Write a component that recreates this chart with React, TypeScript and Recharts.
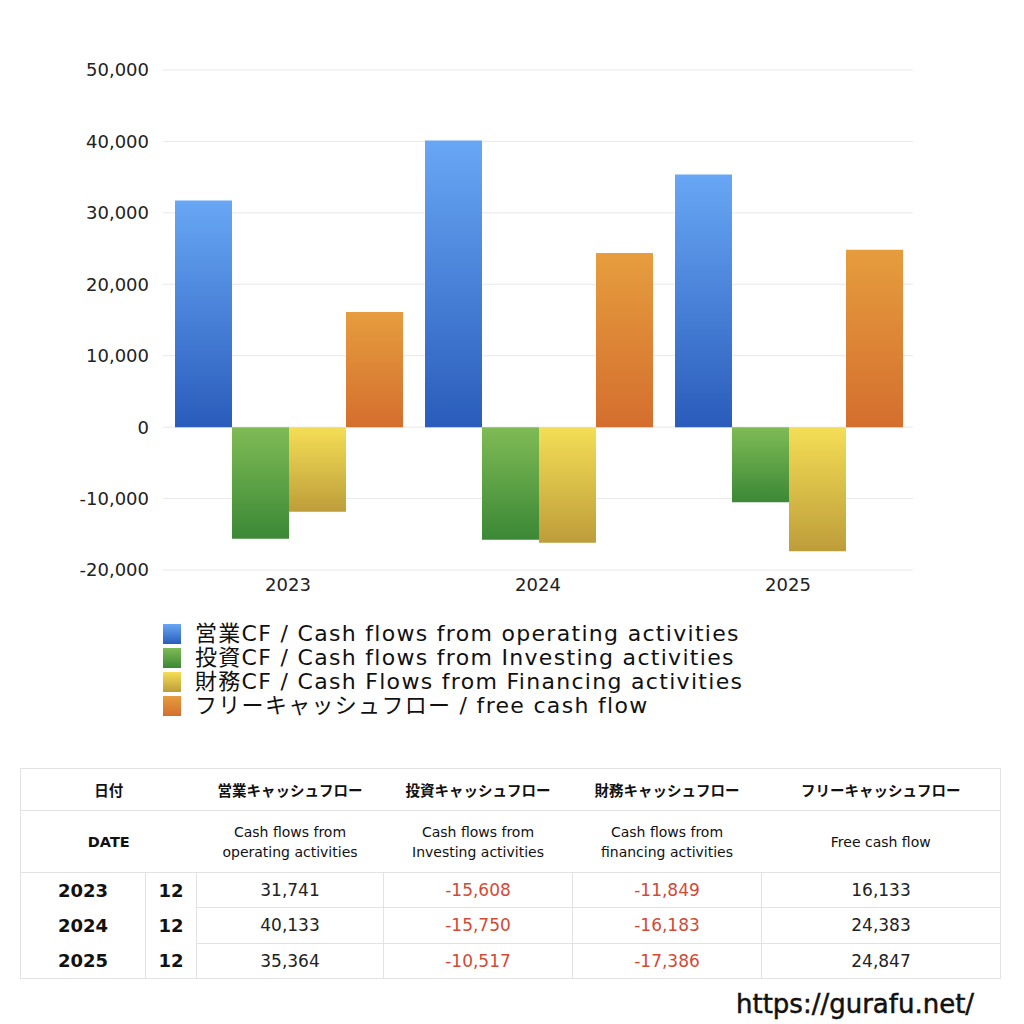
import React from 'react';
import { BarChart, Bar, XAxis, YAxis, CartesianGrid } from 'recharts';

const years = ['2023', '2024', '2025'];
const months = ['12', '12', '12'];
const operating = [31741, 40133, 35364];
const investing = [-15608, -15750, -10517];
const financing = [-11849, -16183, -17386];
const freeCF = [16133, 24383, 24847];
const yTicks = [-20000, -10000, 0, 10000, 20000, 30000, 40000, 50000];

const seriesDefs = [
  { key: 'operating', label: '営業CF / Cash flows from operating activities', top: '#68a7f5', bottom: '#2a5cbb', grad: 'gOp' },
  { key: 'investing', label: '投資CF / Cash flows from Investing activities', top: '#7fbb55', bottom: '#3b8836', grad: 'gInv' },
  { key: 'financing', label: '財務CF / Cash Flows from Financing activities', top: '#f4de55', bottom: '#bd9d3a', grad: 'gFin' },
  { key: 'free', label: 'フリーキャッシュフロー / free cash flow', top: '#e69d3e', bottom: '#d46e2e', grad: 'gFree' },
];

const tableHeadJa = ['営業キャッシュフロー', '投資キャッシュフロー', '財務キャッシュフロー', 'フリーキャッシュフロー'];
const tableHeadEn = [['Cash flows from', 'operating activities'], ['Cash flows from', 'Investing activities'], ['Cash flows from', 'financing activities'], ['Free cash flow']];

const data = years.map((y, i) => ({
  year: y,
  operating: operating[i],
  investing: investing[i],
  financing: financing[i],
  free: freeCF[i],
}));

const FONT = '"DejaVu Sans", "Noto Sans CJK JP", sans-serif';
const fmt = (v: number) => v.toLocaleString('en-US');

export default function App() {
  const border = '1px solid #e2e2e2';
  const colW = [125, 51, 187, 189, 189, 239];
  const tableRows = years.map((y, i) => [operating[i], investing[i], financing[i], freeCF[i]]);
  return (
    <div style={{ position: 'absolute', left: 0, top: 0, width: 1024, height: 1024, background: '#fff', fontFamily: FONT, overflow: 'hidden' }}>
      <div style={{ position: 'absolute', left: 0, top: 0 }}>
        <BarChart width={1024} height={610} data={data} margin={{ top: 70, right: 111, bottom: 10, left: 63 }} barCategoryGap={12} barGap={0}>
          <defs>
            {seriesDefs.map((s) => (
              <linearGradient key={s.grad} id={s.grad} x1="0" y1="0" x2="0" y2="1">
                <stop offset="0%" stopColor={s.top} />
                <stop offset="100%" stopColor={s.bottom} />
              </linearGradient>
            ))}
          </defs>
          <CartesianGrid vertical={false} stroke="#e8e8e8" />
          <XAxis dataKey="year" height={30} axisLine={false} tickLine={false} tickSize={0} tickMargin={8}
            tick={{ fontSize: 18, fill: '#222', fontFamily: FONT }} />
          <YAxis width={100} domain={[-20000, 50000]} ticks={yTicks} axisLine={false} tickLine={false} tickSize={0} tickMargin={14}
            tickFormatter={fmt} tick={{ fontSize: 18, fill: '#222', fontFamily: FONT }} />
          {seriesDefs.map((s) => (
            <Bar key={s.key} dataKey={s.key} fill={`url(#${s.grad})`} isAnimationActive={false} />
          ))}
        </BarChart>
      </div>

      <div style={{ position: 'absolute', left: 163, top: 622 }}>
        {seriesDefs.map((s) => (
          <div key={s.key} style={{ display: 'flex', alignItems: 'center', height: 24 }}>
            <div style={{ width: 18, height: 20, background: `linear-gradient(${s.top}, ${s.bottom})`, marginRight: 14 }} />
            <span style={{ fontSize: 22, letterSpacing: 1.3, color: '#111', whiteSpace: 'nowrap', lineHeight: '24px' }}>{s.label}</span>
          </div>
        ))}
      </div>

      <table style={{ position: 'absolute', left: 20, top: 768, width: 980, borderCollapse: 'collapse', tableLayout: 'fixed', fontFamily: FONT, border }}>
        <colgroup>
          {colW.map((w, i) => <col key={i} style={{ width: w }} />)}
        </colgroup>
        <tbody>
          <tr style={{ height: 42 }}>
            <td colSpan={2} style={{ textAlign: 'center', fontWeight: 'bold', fontSize: 14.5, borderBottom: border, padding: 0, color: '#111' }}>日付</td>
            {tableHeadJa.map((h) => (
              <td key={h} style={{ textAlign: 'center', fontWeight: 'bold', fontSize: 14.5, borderBottom: border, padding: 0, color: '#111' }}>{h}</td>
            ))}
          </tr>
          <tr style={{ height: 62 }}>
            <td colSpan={2} style={{ textAlign: 'center', fontWeight: 'bold', fontSize: 14.5, borderBottom: border, padding: 0, color: '#111' }}>DATE</td>
            {tableHeadEn.map((h, i) => (
              <td key={i} style={{ textAlign: 'center', fontSize: 14, borderBottom: border, padding: 0, lineHeight: '20px', color: '#111' }}>
                {h.map((l, j) => <div key={j}>{l}</div>)}
              </td>
            ))}
          </tr>
          {tableRows.map((row, i) => (
            <tr key={years[i]} style={{ height: 35.3 }}>
              <td style={{ textAlign: 'center', fontWeight: 'bold', fontSize: 18, borderRight: border, padding: 0, color: '#111' }}>{years[i]}</td>
              <td style={{ textAlign: 'center', fontWeight: 'bold', fontSize: 18, borderRight: border, padding: 0, color: '#111' }}>{months[i]}</td>
              {row.map((v, j) => (
                <td key={j} style={{ textAlign: 'center', fontSize: 17, padding: 0, color: v < 0 ? '#d24a35' : '#222', borderRight: border, borderBottom: border }}>{fmt(v)}</td>
              ))}
            </tr>
          ))}
        </tbody>
      </table>

      <div style={{ position: 'absolute', left: 736, top: 988, fontSize: 26, fontWeight: 'normal', WebkitTextStroke: '0.5px #111', color: '#111', whiteSpace: 'nowrap', lineHeight: '32px' }}>
        https://gurafu.net/
      </div>
    </div>
  );
}
